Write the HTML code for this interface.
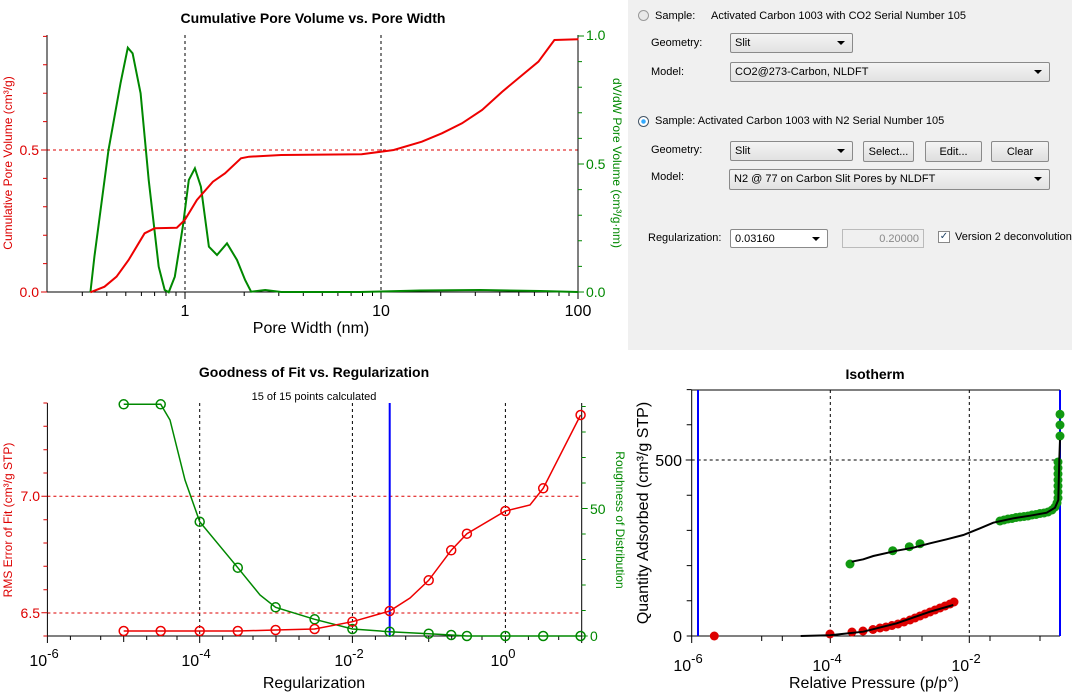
<!DOCTYPE html>
<html><head><meta charset="utf-8"><style>
body{margin:0;width:1072px;height:699px;overflow:hidden;background:#fff;font-family:"Liberation Sans",sans-serif}
.p{position:absolute;left:628px;top:0;width:444px;height:350px;background:#f0f0f0;font-size:11px;color:#000}
.a{position:absolute;white-space:nowrap}
.cb{position:absolute;box-sizing:border-box;border:1px solid #8a8a8a;border-radius:2px;background:linear-gradient(#f4f4f4,#e2e2e2);padding:3px 4px;font-size:11px}
.cb:after{content:"";position:absolute;right:7px;top:7px;border:4px solid transparent;border-top:4px solid #000;border-bottom:0}
.bt{position:absolute;box-sizing:border-box;border:1px solid #8a8a8a;border-radius:2px;background:linear-gradient(#f4f4f4,#dedede);text-align:center;font-size:11px;padding-top:4px}
svg{position:absolute;left:0;top:0}
</style></head><body>
<svg width="1072" height="699" font-family="Liberation Sans, sans-serif">
<!-- Chart 1 -->
<text x="313" y="23" font-size="14" font-weight="bold" text-anchor="middle">Cumulative Pore Volume vs. Pore Width</text>
<line x1="185" y1="35" x2="185" y2="292" stroke="#000" stroke-dasharray="3,3"/>
<line x1="381" y1="35" x2="381" y2="292" stroke="#000" stroke-dasharray="3,3"/>
<line x1="47" y1="150" x2="578" y2="150" stroke="#d00" stroke-dasharray="3,3"/>
<line x1="47" y1="35" x2="47" y2="292" stroke="#000"/>
<line x1="578" y1="35" x2="578" y2="292" stroke="#000"/>
<line x1="47" y1="292" x2="578" y2="292" stroke="#000"/>
<path d="M82.3 292v4M106.8 292v4M125.8 292v4M141.4 292v4M154.6 292v4M166 292v4M176 292v4M244.2 292v4M278.8 292v4M303.3 292v4M322.3 292v4M337.9 292v4M351.1 292v4M362.5 292v4M372.5 292v4M440.7 292v4M475.3 292v4M499.8 292v4M518.8 292v4M534.4 292v4M547.6 292v4M559 292v4M569 292v4M185 292v7M381 292v7M578 292v7" stroke="#000"/>
<path d="M47 292h-6M47 263.6h-4M47 235.2h-4M47 206.8h-4M47 178.4h-4M47 150h-6M47 121.6h-4M47 93.2h-4M47 64.8h-4M47 36.4h-4" stroke="#d00"/>
<path d="M578 292h6M578 266.4h4M578 240.8h4M578 215.2h4M578 189.6h4M578 164h6M578 138.4h4M578 112.8h4M578 87.2h4M578 61.6h4M578 36h6" stroke="#080"/>
<text x="39" y="297" font-size="14" fill="#d00" text-anchor="end">0.0</text>
<text x="39" y="155" font-size="14" fill="#d00" text-anchor="end">0.5</text>
<text x="586" y="297" font-size="14" fill="#080">0.0</text>
<text x="586" y="169" font-size="14" fill="#080">0.5</text>
<text x="586" y="40" font-size="14" fill="#080">1.0</text>
<text x="185" y="316" font-size="16" text-anchor="middle">1</text>
<text x="381" y="316" font-size="16" text-anchor="middle">10</text>
<text x="578" y="316" font-size="16" text-anchor="middle">100</text>
<text x="311" y="333" font-size="16" text-anchor="middle">Pore Width (nm)</text>
<text transform="translate(12,163) rotate(-90)" font-size="12" fill="#d00" text-anchor="middle">Cumulative Pore Volume (cm³/g)</text>
<text transform="translate(613,163) rotate(90)" font-size="12" fill="#080" text-anchor="middle">dV/dW Pore Volume (cm³/g·nm)</text>
<polyline fill="none" stroke="#080" stroke-width="2" points="90.4,292.3 94.4,256.7 108.5,150 120.5,83.3 127.8,47.7 132.6,53.3 140.6,93.3 148.7,180 158.7,266.7 164.7,290 168.7,292.3 174.8,276.7 182.8,226.7 188.8,180 194.9,168.3 200.9,186.7 208.9,246.7 217,255 227,243.3 237,260 245.1,280 251.1,291.7 265.2,290 281.2,292 360,292 420,290.5 480,290 540,291 578,292"/>
<polyline fill="none" stroke="#e00" stroke-width="2" points="90.4,292.3 104.5,286.7 116.5,276.7 128.6,260 138.6,243.3 144.6,233.3 154.7,228.3 176.8,227.7 184.8,220 196.9,200 212.9,181.7 225,173.3 241,158.3 249.1,156.7 281.2,155 361.6,154.3 393.7,150 421.8,141.7 441.9,133.3 462,123.3 482.1,110 502.2,91.7 522.3,75 538.4,61.7 554.4,40 578.5,39.3"/>

<!-- Chart 2 -->
<text x="314" y="377" font-size="14" font-weight="bold" text-anchor="middle">Goodness of Fit vs. Regularization</text>
<text x="314" y="400" font-size="11" text-anchor="middle">15 of 15 points calculated</text>
<path d="M199.7 403v233M352.4 403v233M505.4 403v233" stroke="#000" stroke-dasharray="3,3"/>
<path d="M47.4 496.3H581M47.4 613H581" stroke="#d00" stroke-dasharray="3,3"/>
<path d="M47.4 403V636H581.7V403" fill="none" stroke="#000"/>
<path d="M47.4 636v7M123.7 636v6M199.7 636v7M276 636v6M352.4 636v7M428.7 636v6M505.4 636v7M581.7 636v7M70.4 636v4M100.7 636v4M146.7 636v4M177 636v4M222.7 636v4M253 636v4M299 636v4M329.3 636v4M375.4 636v4M405.7 636v4M451.7 636v4M482 636v4M528.4 636v4M558.7 636v4" stroke="#000"/>
<path d="M47.4 636h-4M47.4 612.7h-6M47.4 589.7h-4M47.4 566.3h-4M47.4 543h-4M47.4 519.7h-4M47.4 496.3h-6M47.4 473h-4M47.4 449.7h-4M47.4 426.3h-4M47.4 403h-4" stroke="#d00"/>
<path d="M581.7 636h6M581.7 610.5h4M581.7 585h4M581.7 559.5h4M581.7 534h4M581.7 508.5h6M581.7 483h4M581.7 457.5h4M581.7 432h4M581.7 406.5h4" stroke="#080"/>
<text x="40" y="618" font-size="14" fill="#d00" text-anchor="end">6.5</text>
<text x="40" y="501" font-size="14" fill="#d00" text-anchor="end">7.0</text>
<text x="590" y="641" font-size="14" fill="#080">0</text>
<text x="590" y="514" font-size="14" fill="#080">50</text>
<g font-size="16" text-anchor="middle">
<text x="44" y="666">10<tspan font-size="13" dy="-8">-6</tspan></text>
<text x="196" y="666">10<tspan font-size="13" dy="-8">-4</tspan></text>
<text x="349" y="666">10<tspan font-size="13" dy="-8">-2</tspan></text>
<text x="503" y="666">10<tspan font-size="13" dy="-8">0</tspan></text>
</g>
<text x="314" y="688" font-size="16" text-anchor="middle">Regularization</text>
<text transform="translate(12,520) rotate(-90)" font-size="12" fill="#d00" text-anchor="middle">RMS Error of Fit (cm³/g STP)</text>
<text transform="translate(616,520) rotate(90)" font-size="12" fill="#080" text-anchor="middle">Roughness of Distribution</text>
<line x1="389.7" y1="403" x2="389.7" y2="636" stroke="#00f" stroke-width="2"/>
<g fill="none" stroke-width="1.5">
<polyline stroke="#080" points="123.7,404.3 160.7,404.3 170,420 185,480 199.7,521.7 237.8,567.7 260,595 275.6,607.3 314.6,619.3 352.4,629 389.7,631.7 428.7,633.7 451.2,635 466.9,636 505.4,636 543.2,636 580.6,636"/>
<polyline stroke="#e00" points="123.7,631 160.7,631 199.7,631 237.8,631 275.6,630 314.6,629 352.4,621.7 389.7,611 410,598 428.7,580.3 451.2,550.3 466.9,533.7 505.4,511 530,505 543.2,488.3 580.6,415"/>
<g stroke="#080">
<circle cx="123.7" cy="404.3" r="4.5"/><circle cx="160.7" cy="404.3" r="4.5"/><circle cx="199.7" cy="521.7" r="4.5"/><circle cx="237.8" cy="567.7" r="4.5"/><circle cx="275.6" cy="607.3" r="4.5"/><circle cx="314.6" cy="619.3" r="4.5"/><circle cx="352.4" cy="629" r="4.5"/><circle cx="389.7" cy="631.7" r="4.5"/><circle cx="428.7" cy="633.7" r="4.5"/><circle cx="451.2" cy="635" r="4.5"/><circle cx="466.9" cy="636" r="4.5"/><circle cx="505.4" cy="636" r="4.5"/><circle cx="543.2" cy="636" r="4.5"/><circle cx="580.6" cy="636" r="4.5"/>
</g>
<g stroke="#e00">
<circle cx="123.7" cy="631" r="4.5"/><circle cx="160.7" cy="631" r="4.5"/><circle cx="199.7" cy="631" r="4.5"/><circle cx="237.8" cy="631" r="4.5"/><circle cx="275.6" cy="630" r="4.5"/><circle cx="314.6" cy="629" r="4.5"/><circle cx="352.4" cy="621.7" r="4.5"/><circle cx="389.7" cy="611" r="4.5"/><circle cx="428.7" cy="580.3" r="4.5"/><circle cx="451.2" cy="550.3" r="4.5"/><circle cx="466.9" cy="533.7" r="4.5"/><circle cx="505.4" cy="511" r="4.5"/><circle cx="543.2" cy="488.3" r="4.5"/><circle cx="580.6" cy="415" r="4.5"/>
</g>
</g>

<!-- Isotherm -->
<text x="875" y="379" font-size="14" font-weight="bold" text-anchor="middle">Isotherm</text>
<path d="M830.3 390v246M969.3 390v246M691.7 460H1060" stroke="#000" stroke-dasharray="3,3"/>
<path d="M691.7 390V636H1060" fill="none" stroke="#000"/>
<path d="M691.7 390H1060" stroke="#000"/>
<path d="M691.7 636v7M830.3 636v7M969.3 636v7M761.7 636v5M782.3 636v5M900 636v5M922 636v5M990 636v5M1040 636v5M691.7 636h-5M691.7 600.8h-5M691.7 565.6h-5M691.7 530.4h-5M691.7 495.2h-5M691.7 460h-6M691.7 424.8h-5M691.7 389.6h-5" stroke="#000"/>
<text x="682" y="466" font-size="16" text-anchor="end">500</text>
<text x="682" y="642" font-size="16" text-anchor="end">0</text>
<g font-size="16" text-anchor="middle">
<text x="688" y="671">10<tspan font-size="13" dy="-8">-6</tspan></text>
<text x="827" y="671">10<tspan font-size="13" dy="-8">-4</tspan></text>
<text x="966" y="671">10<tspan font-size="13" dy="-8">-2</tspan></text>
</g>
<text x="874" y="688" font-size="16" text-anchor="middle">Relative Pressure (p/p°)</text>
<text transform="translate(648,513) rotate(-90)" font-size="16" text-anchor="middle">Quantity Adsorbed (cm³/g STP)</text>
<line x1="698" y1="390" x2="698" y2="636" stroke="#00f" stroke-width="2"/>
<line x1="1060" y1="390" x2="1060" y2="636" stroke="#00f" stroke-width="2"/>
<g fill="#d00">
<circle cx="714.3" cy="636" r="4.5"/><circle cx="830" cy="634" r="4.5"/><circle cx="852" cy="632" r="4.5"/><circle cx="863" cy="631" r="4.5"/><circle cx="873" cy="629.5" r="4.5"/><circle cx="880" cy="628" r="4.5"/><circle cx="886" cy="627" r="4.5"/><circle cx="892" cy="625.5" r="4.5"/><circle cx="898" cy="624" r="4.5"/><circle cx="904" cy="622" r="4.5"/><circle cx="910" cy="620" r="4.5"/><circle cx="915" cy="618" r="4.5"/><circle cx="920" cy="616" r="4.5"/><circle cx="925" cy="614" r="4.5"/><circle cx="930" cy="612" r="4.5"/><circle cx="935" cy="610" r="4.5"/><circle cx="940" cy="608" r="4.5"/><circle cx="945" cy="606" r="4.5"/><circle cx="950" cy="604" r="4.5"/><circle cx="954" cy="602" r="4.5"/>
</g>
<g fill="#119911">
<circle cx="850" cy="564" r="4.5"/><circle cx="892.7" cy="550.7" r="4.5"/><circle cx="909.3" cy="546.7" r="4.5"/><circle cx="920" cy="543.7" r="4.5"/>
<circle cx="1000" cy="521" r="4.5"/><circle cx="1004" cy="520" r="4.5"/><circle cx="1008" cy="519" r="4.5"/><circle cx="1012" cy="518.5" r="4.5"/><circle cx="1016" cy="517.5" r="4.5"/><circle cx="1020" cy="517" r="4.5"/><circle cx="1024" cy="516.5" r="4.5"/><circle cx="1028" cy="516" r="4.5"/><circle cx="1032" cy="515" r="4.5"/><circle cx="1036" cy="514.5" r="4.5"/><circle cx="1040" cy="513.5" r="4.5"/><circle cx="1044" cy="513" r="4.5"/><circle cx="1048" cy="512" r="4.5"/><circle cx="1052" cy="510" r="4.5"/><circle cx="1055" cy="507" r="4.5"/><circle cx="1057" cy="503" r="4.5"/><circle cx="1058" cy="498" r="4.5"/><circle cx="1058" cy="492" r="4.5"/><circle cx="1058" cy="486" r="4.5"/><circle cx="1058" cy="480" r="4.5"/><circle cx="1058" cy="474" r="4.5"/><circle cx="1058" cy="468" r="4.5"/><circle cx="1058" cy="462" r="4.5"/>
<circle cx="1060" cy="436" r="4.5"/><circle cx="1060" cy="425" r="4.5"/><circle cx="1060" cy="414.3" r="4.5"/>
</g>
<g fill="none" stroke="#000" stroke-width="2">
<polyline points="800.7,636 830,635.3 863.3,631.7 896.7,623.3 930,611.7 953.3,605"/>
<polyline points="851.7,561.7 863.3,559.3 873.3,556 896.7,550.7 913.3,547.7 930,543.3 946.7,539.3 963.3,535 980,528.3 993.3,522.7 1013.3,518.3 1030,515.7 1046.7,512.7 1055,507.7 1058.3,500 1059.3,460 1060,440"/>
</g>
</svg>

<div class="p">
<div class="a" style="left:10px;top:10px;width:11px;height:11px;border-radius:50%;border:1px solid #999;background:#e8e8e8;box-sizing:border-box"></div>
<div class="a" style="left:27px;top:10px">Sample:</div>
<div class="a" style="left:83px;top:10px">Activated Carbon 1003 with CO2 Serial Number 105</div>
<div class="a" style="left:23px;top:37px">Geometry:</div>
<div class="cb" style="left:102px;top:33px;width:123px;height:20px">Slit</div>
<div class="a" style="left:23px;top:66px">Model:</div>
<div class="cb" style="left:102px;top:62px;width:320px;height:20px">CO2@273-Carbon, NLDFT</div>
<div class="a" style="left:10px;top:116px;width:11px;height:11px;border-radius:50%;border:1px solid #456;background:radial-gradient(#3af 30%,#fff 40%);box-sizing:border-box"></div>
<div class="a" style="left:27px;top:115px">Sample: Activated Carbon 1003 with N2 Serial Number 105</div>
<div class="a" style="left:23px;top:144px">Geometry:</div>
<div class="cb" style="left:102px;top:141px;width:123px;height:20px">Slit</div>
<div class="bt" style="left:235px;top:141px;width:51px;height:21px">Select...</div>
<div class="bt" style="left:297px;top:141px;width:57px;height:21px">Edit...</div>
<div class="bt" style="left:363px;top:141px;width:58px;height:21px">Clear</div>
<div class="a" style="left:23px;top:171px">Model:</div>
<div class="cb" style="left:101px;top:169px;width:321px;height:21px">N2 @ 77 on Carbon Slit Pores by NLDFT</div>
<div class="a" style="left:20px;top:232px">Regularization:</div>
<div class="cb" style="left:102px;top:229px;width:98px;height:19px;background:#fff">0.03160</div>
<div class="a" style="left:214px;top:229px;width:82px;height:19px;border:1px solid #bbb;box-sizing:border-box;text-align:right;color:#888;padding:3px 4px;background:#f0f0f0">0.20000</div>
<div class="a" style="left:310px;top:231px;width:12px;height:12px;border:1px solid #888;box-sizing:border-box;background:#fff;font-size:10px;line-height:10px;color:#246;text-align:center">✓</div>
<div class="a" style="left:327px;top:231px">Version 2 deconvolution</div>
</div>
</body></html>
